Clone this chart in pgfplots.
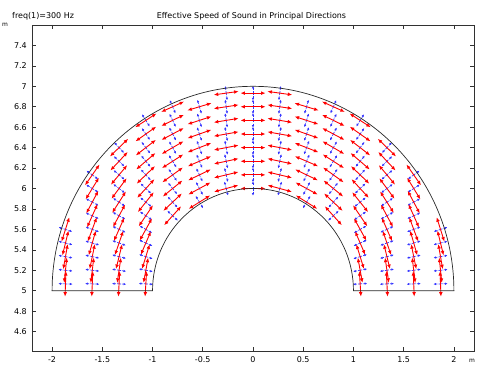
\documentclass[border=0pt]{standalone}
\usepackage{fontspec}
\setmainfont{DejaVu Sans}
\usepackage{pgfplots}
\pgfplotsset{compat=1.18}
\usepackage{pgfplotstable}
\usetikzlibrary{arrows.meta}
\definecolor{arrred}{RGB}{255,0,0}
\definecolor{arrblue}{RGB}{50,50,255}
\definecolor{geom}{RGB}{40,40,40}
\definecolor{axcol}{RGB}{50,50,50}

\pgfplotstableread{
x y nx ny
0 6.0 0 1
0 6.1333 0 1
0 6.2667 0 1
0 6.4 0 1
0 6.5333 0 1
0 6.6667 0 1
0 6.8 0 1
0 6.9333 0 1
0.2667 6.0 0.2577 0.9662
0.2667 6.1333 0.2290 0.9734
0.2667 6.2667 0.2060 0.9786
0.2667 6.4 0.1871 0.9823
0.2667 6.5333 0.1713 0.9852
0.2667 6.6667 0.1580 0.9874
0.2667 6.8 0.1466 0.9892
0.2667 6.9333 0.1366 0.9906
-0.2667 6.0 -0.2577 0.9662
-0.2667 6.1333 -0.2290 0.9734
-0.2667 6.2667 -0.2060 0.9786
-0.2667 6.4 -0.1871 0.9823
-0.2667 6.5333 -0.1713 0.9852
-0.2667 6.6667 -0.1580 0.9874
-0.2667 6.8 -0.1466 0.9892
-0.2667 6.9333 -0.1366 0.9906
0.5333 5.8667 0.5241 0.8517
0.5333 6.0 0.4706 0.8824
0.5333 6.1333 0.4258 0.9048
0.5333 6.2667 0.3881 0.9216
0.5333 6.4 0.3560 0.9345
0.5333 6.5333 0.3285 0.9445
0.5333 6.6667 0.3048 0.9524
0.5333 6.8 0.2841 0.9588
-0.5333 5.8667 -0.5241 0.8517
-0.5333 6.0 -0.4706 0.8824
-0.5333 6.1333 -0.4258 0.9048
-0.5333 6.2667 -0.3881 0.9216
-0.5333 6.4 -0.3560 0.9345
-0.5333 6.5333 -0.3285 0.9445
-0.5333 6.6667 -0.3048 0.9524
-0.5333 6.8 -0.2841 0.9588
0.8 5.7333 0.7372 0.6757
0.8 5.8667 0.6783 0.7348
0.8 6.0 0.6247 0.7809
0.8 6.1333 0.5767 0.8170
0.8 6.2667 0.5340 0.8455
0.8 6.4 0.4961 0.8682
0.8 6.5333 0.4626 0.8866
0.8 6.6667 0.4327 0.9015
0.8 6.8 0.4061 0.9138
-0.8 5.7333 -0.7372 0.6757
-0.8 5.8667 -0.6783 0.7348
-0.8 6.0 -0.6247 0.7809
-0.8 6.1333 -0.5767 0.8170
-0.8 6.2667 -0.5340 0.8455
-0.8 6.4 -0.4961 0.8682
-0.8 6.5333 -0.4626 0.8866
-0.8 6.6667 -0.4327 0.9015
-0.8 6.8 -0.4061 0.9138
1.0667 5.0667 0.9981 0.0624
1.0667 5.2 0.9829 0.1843
1.0667 5.3333 0.9545 0.2983
1.0667 5.4667 0.9162 0.4008
1.0667 5.6 0.8716 0.4903
1.0667 5.7333 0.8240 0.5665
1.0667 5.8667 0.7761 0.6306
1.0667 6.0 0.7295 0.6839
1.0667 6.1333 0.6854 0.7282
1.0667 6.2667 0.6441 0.7649
1.0667 6.4 0.6060 0.7954
1.0667 6.5333 0.5711 0.8209
1.0667 6.6667 0.5391 0.8423
-1.0667 5.0667 -0.9981 0.0624
-1.0667 5.2 -0.9829 0.1843
-1.0667 5.3333 -0.9545 0.2983
-1.0667 5.4667 -0.9162 0.4008
-1.0667 5.6 -0.8716 0.4903
-1.0667 5.7333 -0.8240 0.5665
-1.0667 5.8667 -0.7761 0.6306
-1.0667 6.0 -0.7295 0.6839
-1.0667 6.1333 -0.6854 0.7282
-1.0667 6.2667 -0.6441 0.7649
-1.0667 6.4 -0.6060 0.7954
-1.0667 6.5333 -0.5711 0.8209
-1.0667 6.6667 -0.5391 0.8423
1.3333 5.0667 0.9988 0.0499
1.3333 5.2 0.9889 0.1483
1.3333 5.3333 0.9701 0.2425
1.3333 5.4667 0.9439 0.3304
1.3333 5.6 0.9119 0.4104
1.3333 5.7333 0.8762 0.4819
1.3333 5.8667 0.8384 0.5450
1.3333 6.0 0.8 0.6
1.3333 6.1333 0.7619 0.6476
1.3333 6.2667 0.7250 0.6888
1.3333 6.4 0.6897 0.7241
-1.3333 5.0667 -0.9988 0.0499
-1.3333 5.2 -0.9889 0.1483
-1.3333 5.3333 -0.9701 0.2425
-1.3333 5.4667 -0.9439 0.3304
-1.3333 5.6 -0.9119 0.4104
-1.3333 5.7333 -0.8762 0.4819
-1.3333 5.8667 -0.8384 0.5450
-1.3333 6.0 -0.8 0.6
-1.3333 6.1333 -0.7619 0.6476
-1.3333 6.2667 -0.7250 0.6888
-1.3333 6.4 -0.6897 0.7241
1.6 5.0667 0.9991 0.0416
1.6 5.2 0.9923 0.1240
1.6 5.3333 0.9790 0.2039
1.6 5.4667 0.96 0.28
1.6 5.6 0.9363 0.3511
1.6 5.7333 0.9091 0.4167
1.6 5.8667 0.8793 0.4763
1.6 6.0 0.8480 0.5300
1.6 6.1333 0.8160 0.5780
-1.6 5.0667 -0.9991 0.0416
-1.6 5.2 -0.9923 0.1240
-1.6 5.3333 -0.9790 0.2039
-1.6 5.4667 -0.96 0.28
-1.6 5.6 -0.9363 0.3511
-1.6 5.7333 -0.9091 0.4167
-1.6 5.8667 -0.8793 0.4763
-1.6 6.0 -0.8480 0.5300
-1.6 6.1333 -0.8160 0.5780
1.8667 5.0667 0.9994 0.0357
1.8667 5.2 0.9943 0.1065
1.8667 5.3333 0.9844 0.1758
1.8667 5.4667 0.9702 0.2425
1.8667 5.6 0.9520 0.3060
-1.8667 5.0667 -0.9994 0.0357
-1.8667 5.2 -0.9943 0.1065
-1.8667 5.3333 -0.9844 0.1758
-1.8667 5.4667 -0.9702 0.2425
-1.8667 5.6 -0.9520 0.3060
}\pts

\begin{document}
\begin{tikzpicture}[font=\fontsize{8}{9.6}\selectfont]
\useasboundingbox (-32bp,-15bp) rectangle (447bp,351bp);
\begin{axis}[
  at={(0,0)}, anchor=south west,
  scale only axis, width=442bp, height=326bp,
  xmin=-2.2, xmax=2.2, ymin=4.41, ymax=7.6,
  xtick={-2,-1.5,-1,-0.5,0,0.5,1,1.5,2},
  xticklabels={-2,-1.5,-1,-0.5,0,0.5,1,1.5,2},
  ytick={4.6,4.8,5,5.2,5.4,5.6,5.8,6,6.2,6.4,6.6,6.8,7,7.2,7.4},
  yticklabels={4.6,4.8,5,5.2,5.4,5.6,5.8,6,6.2,6.4,6.6,6.8,7,7.2,7.4},
  tick align=inside, major tick length=4bp,
  axis line style={axcol, line width=0.7bp},
  tick style={axcol, line width=0.6bp},
  xticklabel style={anchor=base, yshift=-11.5bp, inner sep=0pt, font=\fontsize{8}{9.6}\selectfont},
  yticklabel style={anchor=east, xshift=-5bp, inner sep=0pt, font=\fontsize{8}{9.6}\selectfont},
]
\addplot[arrblue, line width=0.7bp, dash pattern=on 2bp off 1.2bp, -{Latex[length=2.5bp,width=2.5bp]},
  quiver={u=0.07*\thisrow{nx}, v=0.07*\thisrow{ny}}] table[x=x,y=y] {\pts};
\addplot[arrblue, line width=0.7bp, dash pattern=on 2bp off 1.2bp, -{Latex[length=2.5bp,width=2.5bp]},
  quiver={u=-0.07*\thisrow{nx}, v=-0.07*\thisrow{ny}}] table[x=x,y=y] {\pts};
\addplot[arrred, line width=0.9bp, -{Latex[length=4.5bp,width=3.8bp]},
  quiver={u=-0.125*\thisrow{ny}, v=0.125*\thisrow{nx}}] table[x=x,y=y] {\pts};
\addplot[arrred, line width=0.9bp, -{Latex[length=4.5bp,width=3.8bp]},
  quiver={u=0.125*\thisrow{ny}, v=-0.125*\thisrow{nx}}] table[x=x,y=y] {\pts};
\draw[geom, line width=0.7bp] (axis cs:2,5) arc[start angle=0, end angle=180, x radius=2, y radius=2]
  -- (axis cs:-1,5) arc[start angle=180, end angle=0, x radius=1, y radius=1] -- cycle;
\end{axis}
\node[anchor=base west, inner sep=0pt] at (-20bp,332.3bp) {freq(1)=300 Hz};
\node[anchor=base, inner sep=0pt] at (219.5bp,332.3bp) {Effective Speed of Sound in Principal Directions};
\node[anchor=base, inner sep=0pt, font=\fontsize{6}{7}\selectfont] at (-27bp,324.3bp) {m};
\node[anchor=base, inner sep=0pt, font=\fontsize{6}{7}\selectfont] at (440bp,-11bp) {m};
\end{tikzpicture}
\end{document}
